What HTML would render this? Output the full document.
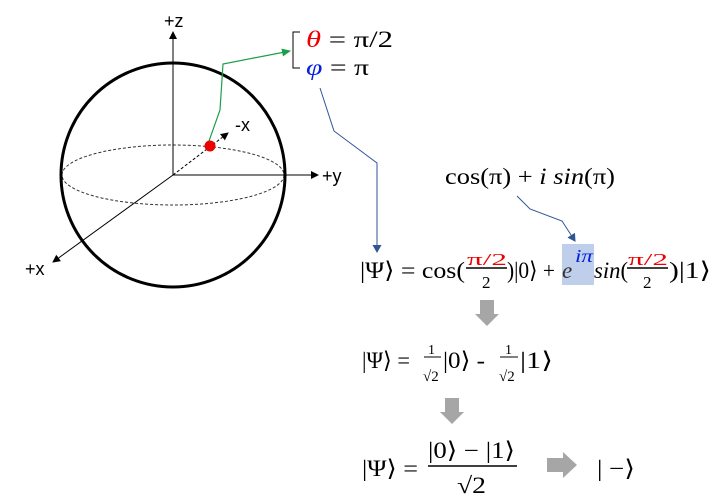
<!DOCTYPE html>
<html><head><meta charset="utf-8"><style>html,body{margin:0;padding:0;background:#fff}svg{display:block}text{font-family:"Liberation Serif","DejaVu Serif",serif}.s{font-family:"Liberation Sans",sans-serif}</style></head><body>
<svg width="714" height="501" viewBox="0 0 714 501" xmlns="http://www.w3.org/2000/svg">
<defs>
<marker id="ak" markerWidth="8" markerHeight="8" refX="7" refY="4" orient="auto" markerUnits="userSpaceOnUse"><path d="M0,0L8,4L0,8z" fill="#000"/></marker>
<marker id="ag" markerWidth="9" markerHeight="8" refX="8" refY="4" orient="auto" markerUnits="userSpaceOnUse"><path d="M0,0L9,4L0,8z" fill="#1aa04a"/></marker>
<marker id="ab" markerWidth="8" markerHeight="9" refX="7" refY="4.5" orient="auto" markerUnits="userSpaceOnUse"><path d="M0,0L8,4.5L0,9z" fill="#2f5597"/></marker>
</defs>
<ellipse cx="173" cy="175" rx="111" ry="30" fill="none" stroke="#333" stroke-width="1" stroke-dasharray="3,2"/>
<circle cx="173" cy="175" r="112" fill="none" stroke="#000" stroke-width="3"/>
<line x1="173" y1="175" x2="173" y2="32" stroke="#000" stroke-width="1" marker-end="url(#ak)"/>
<line x1="173" y1="175" x2="318" y2="175" stroke="#000" stroke-width="1" marker-end="url(#ak)"/>
<line x1="173" y1="175" x2="53" y2="262" stroke="#000" stroke-width="1" marker-end="url(#ak)"/>
<line x1="173" y1="175" x2="228" y2="133" stroke="#000" stroke-width="1" stroke-dasharray="3,2" marker-end="url(#ak)"/>
<text class="s" x="164" y="27" font-size="18">+z</text>
<text class="s" x="322" y="182" font-size="18">+y</text>
<text class="s" x="25" y="275" font-size="18">+x</text>
<text class="s" x="235" y="131" font-size="18">-x</text>
<polyline points="209,141 220,110 223,64 290,51" fill="none" stroke="#1aa04a" stroke-width="1.2" marker-end="url(#ag)"/>
<circle cx="210" cy="146" r="5.5" fill="#e00"/>
<path d="M300,32 H293 V68 H300" fill="none" stroke="#000" stroke-width="1"/>
<text x="306" y="47" font-size="23" textLength="87" lengthAdjust="spacingAndGlyphs"><tspan fill="#e00" font-style="italic">θ</tspan> = π/2</text>
<text x="306" y="75" font-size="23" textLength="63" lengthAdjust="spacingAndGlyphs"><tspan fill="#0020e0" font-style="italic">φ</tspan> = π</text>
<polyline points="320,88 334,131 377,163 377,252" fill="none" stroke="#2f5597" stroke-width="1" marker-end="url(#ab)"/>
<text x="445" y="184" font-size="23" textLength="170" lengthAdjust="spacingAndGlyphs">cos(π) + <tspan font-style="italic">i sin</tspan>(π)</text>
<polyline points="517,196 530,209 562,221 575,241" fill="none" stroke="#2f5597" stroke-width="1" marker-end="url(#ab)"/>
<rect x="562" y="244" width="32" height="41" fill="#b4c7e7" opacity="0.85"/>
<g font-size="23">
<text x="360" y="278" textLength="105" lengthAdjust="spacingAndGlyphs">|Ψ⟩ = cos(</text>
<text x="467" y="265" font-size="17" fill="#e00" textLength="40" lengthAdjust="spacingAndGlyphs">π/2</text>
<line x1="466" y1="268" x2="507" y2="268" stroke="#000" stroke-width="1.5"/>
<text x="482" y="288" font-size="17">2</text>
<text x="507" y="278" textLength="48" lengthAdjust="spacingAndGlyphs">)|0⟩ +</text>
<text x="562" y="278" font-style="italic" fill="#333">e</text>
<text x="575" y="262" font-size="18" fill="#0020e0" font-style="italic" textLength="18" lengthAdjust="spacingAndGlyphs">iπ</text>
<text x="594" y="278" textLength="34" lengthAdjust="spacingAndGlyphs"><tspan font-style="italic">sin</tspan>(</text>
<text x="628" y="265" font-size="17" fill="#e00" textLength="40" lengthAdjust="spacingAndGlyphs">π/2</text>
<line x1="627" y1="268" x2="668" y2="268" stroke="#000" stroke-width="1.5"/>
<text x="643" y="288" font-size="17">2</text>
<text x="669" y="278" textLength="42" lengthAdjust="spacingAndGlyphs">)|1⟩</text>
</g>
<path d="M480,300 H494 V314 H499 L487,326 L475,314 H480Z" fill="#a6a6a6"/>
<path d="M445,398 H459 V412 H464 L452,424 L440,412 H445Z" fill="#a6a6a6"/>
<path d="M547,458 H563 V452 L577,465 L563,478 V472 H547Z" fill="#a6a6a6"/>
<g font-size="23">
<text x="362" y="368" textLength="48" lengthAdjust="spacingAndGlyphs">|Ψ⟩ =</text>
<text x="428" y="354" font-size="14">1</text>
<line x1="424" y1="357" x2="441" y2="357" stroke="#000" stroke-width="1"/>
<text x="423" y="381" font-size="15">√2</text>
<text x="443" y="368" textLength="42" lengthAdjust="spacingAndGlyphs">|0⟩ -</text>
<text x="505" y="354" font-size="14">1</text>
<line x1="500" y1="357" x2="518" y2="357" stroke="#000" stroke-width="1"/>
<text x="499" y="381" font-size="15">√2</text>
<text x="520" y="368" textLength="33" lengthAdjust="spacingAndGlyphs">|1⟩</text>
<text x="362" y="476" textLength="56" lengthAdjust="spacingAndGlyphs">|Ψ⟩ =</text>
<text x="428" y="458" textLength="87" lengthAdjust="spacingAndGlyphs">|0⟩ − |1⟩</text>
<line x1="428" y1="466" x2="517" y2="466" stroke="#000" stroke-width="1.5"/>
<text x="457" y="493" textLength="29" lengthAdjust="spacingAndGlyphs">√2</text>
<text x="597" y="476" textLength="38" lengthAdjust="spacingAndGlyphs">| −⟩</text>
</g>
</svg>
</body></html>
